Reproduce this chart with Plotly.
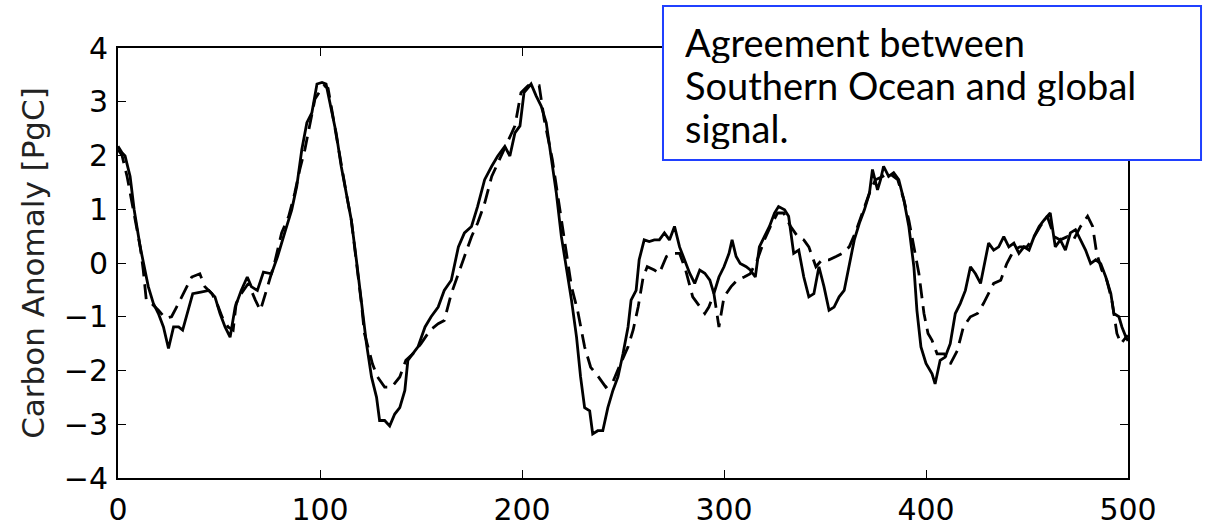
import plotly.graph_objects as go

# Southern Ocean signal (solid)
t_solid = [0, 2, 3.5, 6, 8, 11, 13, 15, 17.5, 20, 22.5, 25, 27.5, 30, 32, 35, 37, 41, 45, 48,
           50.5, 53, 55.5, 58, 61, 64, 66, 69, 72, 76, 79, 83, 86, 88.5, 91, 93.5, 96, 98.5, 101, 103,
           105.5, 108, 110.5, 113, 115.5, 118, 120.5, 123, 125.5, 128, 129.5, 132, 134.5, 137, 139.5, 142, 143.5, 146, 148.5, 152,
           155, 158.5, 161.5, 165, 168.5, 171.5, 175, 178, 181.5, 185, 188, 191.5, 194, 196.5, 199, 201, 204.5, 207, 209.5, 212,
           214.5, 217, 219.5, 222, 224.5, 227, 229, 231, 233.5, 235, 237.5, 240, 242.5, 245, 247.5, 250, 252.5, 254, 256.5, 258,
           260.5, 263, 265.5, 268, 270.5, 273, 275.5, 278, 280.5, 283, 285.5, 288, 290.5, 293, 295, 297.5, 300, 302.5, 304, 306,
           308, 311, 313, 315.5, 317.5, 320, 322.5, 325, 327, 330, 332, 334.5, 337, 339.5, 342, 344.5, 347, 349.5, 352, 354.5,
           357, 359.5, 362, 364.5, 367, 369.5, 372, 373.5, 376, 377.5, 379, 381.5, 384, 386.5, 389, 391.5, 394, 395.5, 397.5, 400,
           403, 404.5, 407, 409.5, 412, 414.5, 417, 419.5, 422, 424.5, 427, 429.5, 431, 433.5, 436, 438.5, 441, 443.5, 446, 448.5,
           451, 453.5, 456, 458.5, 461.5, 464, 466.5, 469, 471.5, 474, 476.5, 479, 481.5, 484, 486.5, 489, 491.5, 493, 495.5, 497,
           499, 500]
v_solid = [2.17, 2.05, 1.99, 1.61, 0.99, 0.30, -0.07, -0.44, -0.75, -0.94, -1.19, -1.59, -1.19, -1.19, -1.25, -0.82, -0.57, -0.54, -0.51, -0.63,
           -0.94, -1.19, -1.38, -0.82, -0.51, -0.26, -0.44, -0.51, -0.17, -0.20, 0.12, 0.62, 0.99, 1.43, 2.11, 2.61, 2.80, 3.33, 3.36, 3.33,
           2.86, 2.42, 1.80, 1.30, 0.80, 0.06, -0.75, -1.50, -2.12, -2.50, -2.93, -2.93, -3.03, -2.81, -2.69, -2.37, -1.81, -1.69, -1.56, -1.19,
           -1.00, -0.82, -0.51, -0.32, 0.30, 0.56, 0.68, 1.05, 1.55, 1.80, 1.99, 2.17, 1.99, 2.42, 2.55, 3.17, 3.33, 3.11, 2.92, 2.61,
           1.93, 1.30, 0.49, -0.07, -0.69, -1.38, -2.12, -2.69, -2.75, -3.18, -3.12, -3.12, -2.69, -2.37, -2.12, -1.69, -1.19, -0.69, -0.51, 0.06,
           0.43, 0.40, 0.43, 0.43, 0.56, 0.43, 0.68, 0.30, 0.06, -0.19, -0.38, -0.13, -0.19, -0.32, -0.57, -0.26, -0.07, 0.18, 0.43, 0.12,
           -0.01, -0.07, -0.13, -0.26, 0.30, 0.49, 0.68, 0.93, 1.05, 0.99, 0.87, 0.18, 0.24, -0.26, -0.63, -0.57, -0.07, -0.44, -0.88, -0.82,
           -0.63, -0.51, -0.07, 0.43, 0.74, 0.99, 1.30, 1.74, 1.36, 1.55, 1.80, 1.61, 1.68, 1.55, 1.18, 0.68, -0.07, -0.88, -1.56, -1.87,
           -2.06, -2.25, -1.81, -1.75, -1.50, -0.94, -0.75, -0.51, -0.07, -0.20, -0.38, 0.06, 0.37, 0.24, 0.30, 0.49, 0.30, 0.37, 0.18, 0.30,
           0.24, 0.49, 0.68, 0.80, 0.93, 0.30, 0.43, 0.24, 0.56, 0.62, 0.43, 0.24, -0.01, 0.06, -0.01, -0.26, -0.57, -0.94, -1.00, -1.19,
           -1.38, -1.35]

# Global signal (dashed)
t_dashed = [0, 2, 4.5, 7.5, 11, 12.5, 14, 16.5, 20, 23.5, 26.5, 29, 31.5, 34, 36.5, 40.5, 43, 46.5, 49, 51.5,
            54.5, 57, 58.5, 61, 64.5, 68, 70.5, 73, 75, 77.5, 81, 84.5, 87.5, 90, 92.5, 95, 97.5, 100.5, 102, 104,
            106, 108, 110.5, 113, 115.5, 118, 120.5, 122, 126, 128.5, 132, 135.5, 139.5, 142.5, 146, 150, 154.5, 158.5, 161.5, 165,
            168.5, 171.5, 175, 178, 181.5, 185, 189, 192, 196.5, 199.5, 203, 208.5, 211, 215, 217.5, 221, 224.5, 227.5, 231, 234,
            237.5, 241.5, 245, 248, 252.5, 255, 257.5, 260, 262, 265.5, 268, 271.5, 274.5, 278, 281, 284.5, 287, 290.5, 292.5, 295,
            297.5, 300, 303.5, 306.5, 310, 313, 316.5, 320, 323, 326.5, 329.5, 333, 336.5, 339.5, 342, 345.5, 348.5, 352, 355.5, 358.5,
            362, 365, 368.5, 372, 375, 378.5, 381.5, 386, 389, 391.5, 394, 396.5, 399, 401, 403, 405.5, 409, 412, 415.5, 418.5,
            422, 425.5, 428.5, 431, 433.5, 437, 440, 443.5, 446.5, 450, 453.5, 456.5, 460, 463.5, 466.5, 470, 473, 476.5, 480, 482.5,
            484.5, 487, 489.5, 492, 494.5, 496.5, 499, 500]
v_dashed = [2.11, 2.00, 1.61, 0.99, 0.30, -0.13, -0.69, -0.75, -0.88, -1.03, -1.00, -0.82, -0.63, -0.44, -0.26, -0.20, -0.44, -0.57, -0.75, -1.00,
            -1.19, -1.25, -0.75, -0.57, -0.38, -0.69, -0.88, -0.57, -0.32, 0.00, 0.56, 0.87, 1.30, 1.74, 2.11, 2.55, 3.05, 3.23, 3.30, 3.25,
            2.80, 2.42, 1.80, 1.30, 0.80, 0.06, -0.75, -1.31, -1.88, -2.12, -2.31, -2.31, -2.12, -1.81, -1.69, -1.50, -1.25, -1.13, -1.07, -0.57,
            -0.20, 0.12, 0.49, 0.74, 1.11, 1.61, 1.93, 2.17, 2.55, 3.17, 3.30, 3.30, 2.67, 1.93, 1.30, 0.37, -0.44, -0.88, -1.56, -1.94,
            -2.10, -2.31, -2.21, -1.94, -1.56, -1.25, -0.82, -0.26, -0.07, -0.13, -0.19, 0.12, 0.18, 0.18, -0.13, -0.63, -0.75, -0.94, -0.82, -0.57,
            -1.19, -0.63, -0.44, -0.32, -0.26, -0.20, 0.06, 0.43, 0.68, 0.93, 0.93, 0.68, 0.49, 0.43, 0.30, -0.07, 0.06, 0.06, 0.12, 0.18,
            0.30, 0.56, 0.93, 1.30, 1.55, 1.61, 1.68, 1.55, 1.18, 0.80, 0.30, -0.20, -0.94, -1.31, -1.44, -1.69, -1.69, -1.88, -1.63, -1.19,
            -1.00, -0.94, -0.75, -0.57, -0.38, -0.32, -0.01, 0.24, 0.30, 0.30, 0.49, 0.68, 0.87, 0.49, 0.43, 0.49, 0.43, 0.68, 0.87, 0.68,
            0.18, -0.13, -0.32, -0.69, -1.31, -1.50, -1.38, -1.45]

x_ticks = [0, 100, 200, 300, 400, 500]
y_ticks = [-4, -3, -2, -1, 0, 1, 2, 3, 4]
y_title = "Carbon Anomaly [PgC]"
note_lines = ["Agreement between", "Southern Ocean and global", "signal."]

fig = go.Figure()
fig.add_trace(go.Scatter(x=t_dashed, y=v_dashed, mode="lines",
                         line=dict(color="black", width=2.8, dash="15px,8px"),
                         showlegend=False, hoverinfo="skip"))
fig.add_trace(go.Scatter(x=t_solid, y=v_solid, mode="lines",
                         line=dict(color="black", width=2.8),
                         showlegend=False, hoverinfo="skip"))

axis_common = dict(showline=True, linecolor="black", linewidth=2, mirror="allticks",
                   ticks="inside", ticklen=8, tickwidth=1.2, tickcolor="black",
                   showgrid=False, zeroline=False, automargin=False,
                   tickfont=dict(family="DejaVu Sans", size=30, color="black"))

fig.update_xaxes(range=[0, 500], tickvals=x_ticks, ticklabelstandoff=4, **axis_common)
fig.update_yaxes(range=[-4, 4], tickvals=y_ticks, ticklabelstandoff=2,
                 title=dict(text=y_title, font=dict(family="DejaVu Sans", size=31, color="#222"), standoff=10),
                 **axis_common)

# annotation box
fig.add_shape(type="rect", xref="paper", yref="paper",
              x0=0.5396, x1=1.0723, y0=0.7395, y1=1.0977,
              line=dict(color="#2040ff", width=2), fillcolor="white", layer="above")
line_y = [1.0147, 0.9147, 0.8147]
for txt, yy in zip(note_lines, line_y):
    fig.add_annotation(text=txt, xref="paper", yref="paper", x=0.5594, y=yy,
                       xanchor="left", yanchor="middle", showarrow=False, height=42,
                       font=dict(family="Lato", size=38, color="black"))

fig.update_layout(width=1211, height=527,
                  margin=dict(l=118, r=83, t=48, b=49),
                  paper_bgcolor="white", plot_bgcolor="white")

fig.write_html("out.html")
